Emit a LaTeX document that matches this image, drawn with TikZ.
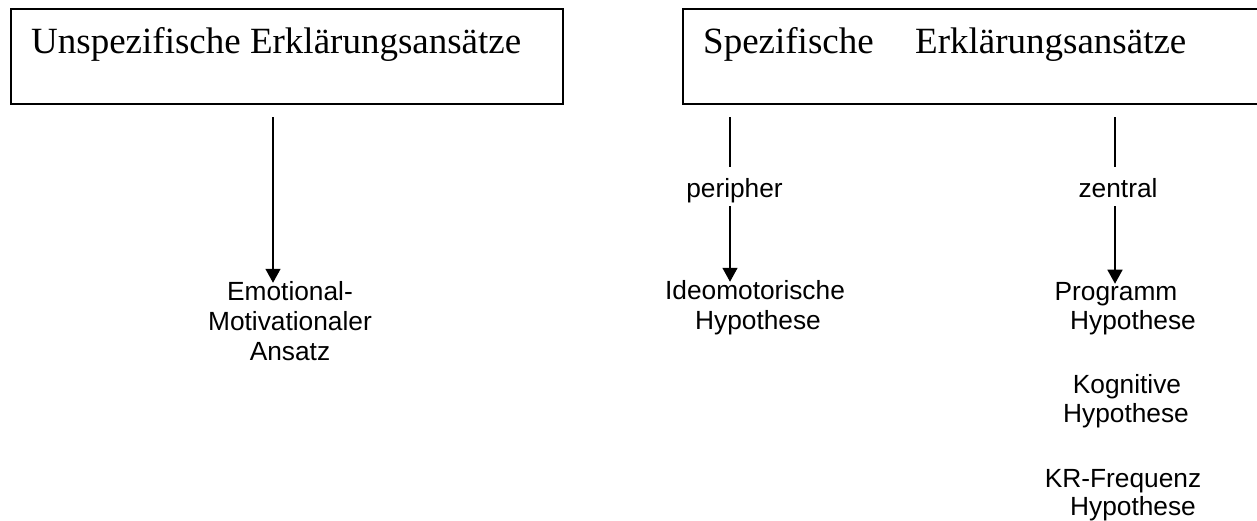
\documentclass[tikz,border=0pt]{standalone}
\usepackage{fontspec}
\setmainfont{Liberation Serif}
\newfontfamily\labfont{Liberation Sans}
\usetikzlibrary{arrows.meta}
\begin{document}
\begin{tikzpicture}[x=1pt,y=-1pt,
  titlebox/.style={draw, line width=2.2pt, anchor=north west, inner sep=0pt, minimum height=95pt},
  titletext/.style={anchor=base west, inner sep=0pt, font=\fontsize{37}{44}\selectfont},
  lab/.style={anchor=base, inner sep=0pt, font=\labfont\fontsize{26.3}{30}\selectfont},
  midlab/.style={lab, text height=19pt, text depth=5.5pt},
  conn/.style={line width=1.6pt},
  arr/.style={conn, -{Triangle[width=15pt,length=14pt]}, shorten >=-2pt}]
\useasboundingbox (0,0) rectangle (1257,520);

% boxes
\node[titlebox, minimum width=552pt] (lbox) at (10,8) {};
\node[titlebox, minimum width=580pt] (rbox) at (682,8) {};
\node[titletext] (ltitle) at (31,53) {Unspezifische Erklärungsansätze};
\node[titletext] (rtitle) at (703,53) {Spezifische\hspace{41.4pt}Erklärungsansätze};

% labels
\node[lab] (emo1) at (290,300) {Emotional-};
\node[lab] (emo2) at (290,330) {Motivationaler};
\node[lab] (emo3) at (290,360) {Ansatz};
\node[midlab] (per) at (734.5,197) {peripher};
\node[lab] (ideo1) at (755,299) {Ideomotorische};
\node[lab] (ideo2) at (758,329) {Hypothese};
\node[midlab] (zen) at (1118,197) {zentral};
\node[lab] (prog1) at (1116,300) {Programm};
\node[lab] (prog2) at (1133,329) {Hypothese};
\node[lab] (kog1) at (1127,393) {Kognitive};
\node[lab] (kog2) at (1126,422) {Hypothese};
\node[lab] (kr1) at (1123,487) {KR-Frequenz};
\node[lab] (kr2) at (1133,515) {Hypothese};

% connectors
\coordinate (s1) at (273,117);
\coordinate (s2) at (730,117);
\coordinate (s3) at (1115,117);
\draw[arr] (s1) -- (s1 |- emo1.north);
\draw[conn, shorten >=11pt] (s2) -- (s2 |- per.north);
\draw[arr, shorten <=3.5pt] (s2 |- per.south) -- (s2 |- ideo1.north);
\draw[conn, shorten >=11pt] (s3) -- (s3 |- zen.north);
\draw[arr, shorten <=3.5pt] (s3 |- zen.south) -- (s3 |- prog1.north);
\end{tikzpicture}
\end{document}
